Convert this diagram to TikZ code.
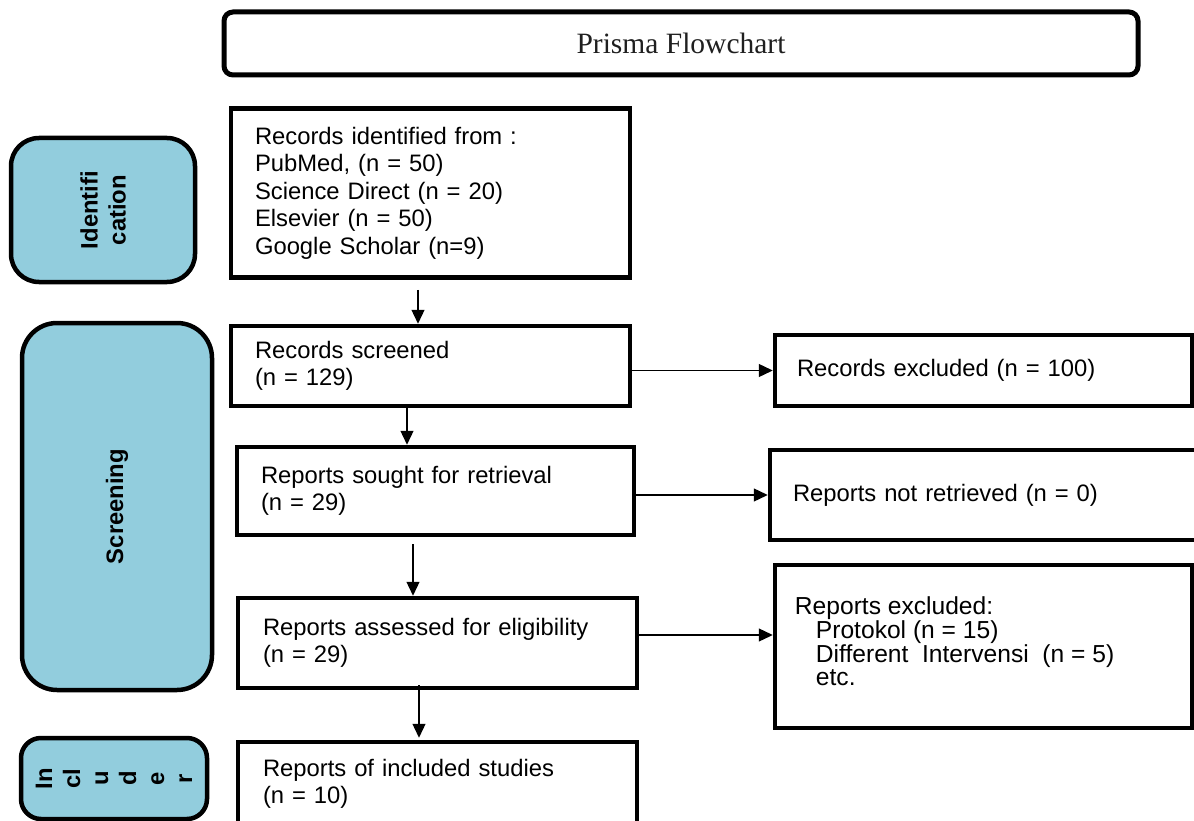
\documentclass[tikz,border=0pt]{standalone}
\usepackage{fontspec}
\setmainfont{Liberation Sans}
\newfontfamily\titlefont{Liberation Serif}
\usetikzlibrary{arrows.meta}
\definecolor{sideblue}{RGB}{146,205,221}
\begin{document}
\begin{tikzpicture}[x=1pt,y=-1pt,
  box/.style={draw, line width=4.5pt, rectangle, align=left, anchor=center,
    font=\fontsize{23.8}{27.5}\selectfont},
  side/.style={draw, line width=4.5pt, fill=sideblue, align=center, anchor=center,
    font=\fontsize{23.8}{28}\selectfont\bfseries},
  arr/.style={line width=1.3pt, -{Triangle[length=14pt,width=13pt]}}]
\useasboundingbox (0,0) rectangle (1194,821);
% title
\node[draw, line width=5pt, rounded corners=9pt, minimum width=914pt, minimum height=63pt,
  font=\titlefont\fontsize{29.5}{34}\selectfont, text=black!88] (title) at (681,43.5) {Prisma Flowchart};
% side labels
\node[side, rotate=90, rounded corners=28pt, minimum width=144pt, minimum height=184pt] (ident) at (103,210) {Identifi\\cation};
\node[side, rotate=90, rounded corners=35pt, minimum width=367pt, minimum height=190pt] (screen) at (117,506.5) {Screening};
\node[side, rotate=90, rounded corners=20pt, minimum width=81pt, minimum height=186pt] (incl) at (114,778.5) {In\\cl\\u\\d\\e\\r};
% main column
\node[box, minimum height=169pt, text width=351pt, inner xsep=24pt] (rid) at (430.5,193)
  {Records identified from :\\PubMed, (n = 50)\\Science Direct (n = 20)\\Elsevier (n = 50)\\Google Scholar (n=9)};
\node[box, minimum height=80pt, text width=351pt, inner xsep=24pt] (rsc) at (430.5,366)
  {Records screened\\(n = 129)};
\node[box, minimum height=88pt, text width=349pt, inner xsep=24pt] (rsr) at (435.5,491)
  {Reports sought for retrieval\\(n = 29)};
\node[box, minimum height=90pt, text width=349pt, inner xsep=25pt] (ras) at (437.5,643)
  {Reports assessed for eligibility\\(n = 29)};
\node[box, minimum height=84pt, text width=349pt, inner xsep=25pt] (rinc) at (437.5,784)
  {Reports of included studies\\(n = 10)};
% right column
\node[box, minimum height=71pt, text width=373pt, inner xsep=22pt] (rex) at (983.5,370.5)
  {Records excluded (n = 100)};
\node[box, minimum height=90pt, text width=394pt, inner xsep=23pt] (rnr) at (990,495)
  {Reports not retrieved (n = 0)};
\node[draw, line width=4.5pt, minimum width=417pt, minimum height=163pt] (rexl) at (983.5,646.5) {};
\node[align=left, anchor=west, inner sep=0pt, font=\fontsize{24.6}{23.8}\selectfont] (rexltxt)
  at ([xshift=22pt,yshift=5pt]rexl.west)
  {Reports excluded:\\\hspace*{21pt}Protokol (n = 15)\\\hspace*{21pt}Different\ \ Intervensi\ \ (n = 5)\\\hspace*{21pt}etc.};
% vertical arrows
\draw[arr] ([xshift=-12.5pt,yshift=-10pt]rid.south) -- ([xshift=-12.5pt]rsc.north);
\draw[arr] ([xshift=-23.5pt]rsc.south) -- ([xshift=-28.5pt]rsr.north);
\draw[arr] ([xshift=-22.5pt,yshift=-7pt]rsr.south) -- ([xshift=-24.5pt]ras.north);
\draw[arr] ([xshift=-18.5pt,yshift=5pt]ras.south) -- ([xshift=-18.5pt,yshift=2pt]rinc.north);
% horizontal arrows
\draw[arr] (rsc.east |- rex.west) -- (rex.west);
\draw[arr] (rsr.east |- rnr.west) -- (rnr.west);
\draw[arr] ([yshift=8pt]ras.east) -- ([yshift=8pt]ras.east -| rexl.west);
\end{tikzpicture}
\end{document}
